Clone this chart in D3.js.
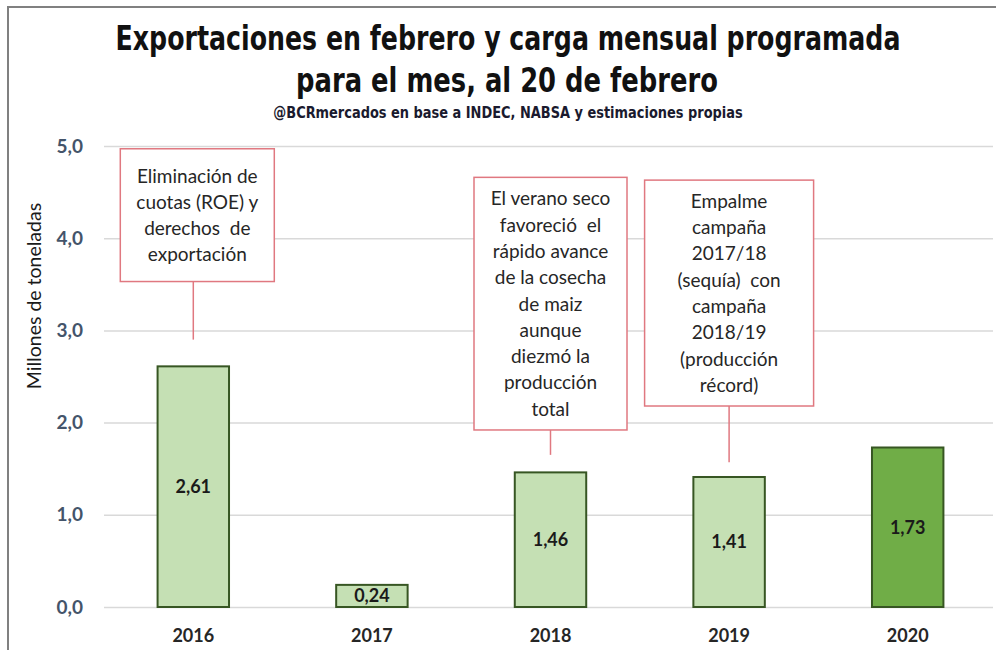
<!DOCTYPE html>
<html>
<head>
<meta charset="utf-8">
<script src="https://cdn.jsdelivr.net/npm/d3@7"></script>
<style>
  body { margin: 0; background: #fff; }
  svg { display: block; }
</style>
</head>
<body>
<svg id="chart"></svg>
<script>
const years = ["2016", "2017", "2018", "2019", "2020"];
const values = [2.61, 0.24, 1.46, 1.41, 1.73];
const yTicks = [0, 1, 2, 3, 4, 5];

const titleLines = [
  "Exportaciones en febrero y carga mensual programada",
  "para el mes, al 20 de febrero"
];
const subtitle = "@BCRmercados en base a INDEC, NABSA y estimaciones propias";
const yTitle = "Millones de toneladas";

const noteYears = ["2016", "2018", "2019"];
const noteTexts = [
  ["Eliminación de", "cuotas (ROE) y", "derechos  de", "exportación"],
  ["El verano seco", "favoreció  el", "rápido avance", "de la cosecha", "de maiz", "aunque", "diezmó la", "producción", "total"],
  ["Empalme", "campaña", "2017/18", "(sequía)  con", "campaña", "2018/19", "(producción", "récord)"]
];

const width = 996;
const height = 650;

// where the note boxes sit, in axis units
const noteLayout = [
  { top: 4.97, bottom: 3.53, tip: 2.90, w: 154, dx: 4 },
  { top: 4.66, bottom: 1.92, tip: 1.65, w: 153, dx: 0 },
  { top: 4.63, bottom: 2.18, tip: 1.57, w: 169, dx: 0 }
];

const svg = d3.select("#chart").attr("width", width).attr("height", height);

svg.append("rect").attr("width", width).attr("height", height).attr("fill", "#fff");

// frame, only top and left edges are visible in the picture
svg.append("rect")
  .attr("x", 8).attr("y", 7)
  .attr("width", 1000).attr("height", 700)
  .attr("fill", "none")
  .attr("stroke", "#808080")
  .attr("stroke-width", 2);

const x = d3.scaleBand()
  .domain(years)
  .range([104, 997])
  .paddingInner(0.6)
  .paddingOuter(0.3);

const y = d3.scaleLinear().domain([0, 5]).range([607, 146]);

const locale = d3.formatLocale({ decimal: ",", thousands: ".", grouping: [3], currency: ["$", ""] });
const f1 = locale.format(".1f");
const f2 = locale.format(".2f");

// titles: condensed look, squeezed horizontally to the widths seen in the picture
const titleFont = "'DejaVu Sans Condensed', 'Liberation Sans Narrow', sans-serif";
function squeezedText(str, cx, baseline, size, targetW, color) {
  const t = svg.append("text")
    .attr("text-anchor", "middle")
    .attr("font-family", titleFont)
    .attr("font-weight", "bold")
    .attr("font-size", size)
    .attr("fill", color)
    .text(str);
  const w = t.node().getComputedTextLength();
  const s = Math.min(1, targetW / w);
  t.attr("transform", `translate(${cx},${baseline}) scale(${s},1)`);
}

squeezedText(titleLines[0], 508, 50, 33, 785, "#111");
squeezedText(titleLines[1], 507, 92, 33, 422, "#111");
squeezedText(subtitle, 508, 118, 15, 470, "#1a1a2e");

// gridlines + y axis
const yAxis = svg.append("g")
  .attr("transform", "translate(104,0)")
  .call(d3.axisLeft(y).tickValues(yTicks).tickSize(-889).tickFormat(f1).tickPadding(21));

yAxis.select(".domain").remove();
yAxis.selectAll(".tick line").attr("stroke", "#d9d9d9").attr("stroke-width", 1.5);
yAxis.selectAll(".tick text")
  .attr("font-family", "Lato, sans-serif")
  .attr("font-weight", "bold")
  .attr("font-size", 19)
  .attr("fill", "#44546a");

svg.append("text")
  .attr("transform", "translate(41,296) rotate(-90)")
  .attr("text-anchor", "middle")
  .attr("font-family", "Lato, sans-serif")
  .attr("font-size", 19.5)
  .attr("fill", "#1a1a1a")
  .text(yTitle);

// x axis labels
const xAxis = svg.append("g")
  .attr("transform", "translate(0,607)")
  .call(d3.axisBottom(x).tickSize(0).tickPadding(22));
xAxis.select(".domain").remove();
xAxis.selectAll(".tick text")
  .attr("font-family", "Lato, sans-serif")
  .attr("font-weight", "bold")
  .attr("font-size", 18)
  .attr("fill", "#262626");

// bars
const bars = years.map((yr, i) => ({ year: yr, value: values[i] }));

svg.append("g")
  .selectAll("rect")
  .data(bars)
  .join("rect")
  .attr("x", d => x(d.year))
  .attr("y", d => y(d.value))
  .attr("width", x.bandwidth())
  .attr("height", d => y(0) - y(d.value))
  .attr("fill", d => d.year === "2020" ? "#70ad47" : "#c5e0b4")
  .attr("stroke", "#375623")
  .attr("stroke-width", 2);

svg.append("g")
  .selectAll("text")
  .data(bars)
  .join("text")
  .attr("x", d => x(d.year) + x.bandwidth() / 2)
  .attr("y", d => (y(d.value) + y(0)) / 2)
  .attr("dy", "0.36em")
  .attr("text-anchor", "middle")
  .attr("font-family", "Lato, sans-serif")
  .attr("font-weight", "bold")
  .attr("font-size", 18)
  .attr("fill", "#1a1a1a")
  .text(d => f2(d.value));

// notes
const notes = noteYears.map((yr, i) => ({ year: yr, lines: noteTexts[i], ...noteLayout[i] }));
const lineGap = 26.3;

const ng = svg.append("g")
  .selectAll("g")
  .data(notes)
  .join("g");

ng.append("line")
  .attr("x1", d => x(d.year) + x.bandwidth() / 2)
  .attr("x2", d => x(d.year) + x.bandwidth() / 2)
  .attr("y1", d => y(d.bottom))
  .attr("y2", d => y(d.tip))
  .attr("stroke", "#e07880")
  .attr("stroke-width", 1.5);

ng.append("rect")
  .attr("x", d => x(d.year) + x.bandwidth() / 2 + d.dx - d.w / 2)
  .attr("y", d => y(d.top))
  .attr("width", d => d.w)
  .attr("height", d => y(d.bottom) - y(d.top))
  .attr("fill", "#fff")
  .attr("stroke", "#e07880")
  .attr("stroke-width", 1.5);

ng.each(function (d) {
  const cx = x(d.year) + x.bandwidth() / 2 + d.dx;
  const cy = (y(d.top) + y(d.bottom)) / 2;
  const start = cy - (d.lines.length - 1) * lineGap / 2;
  d3.select(this).append("text")
    .attr("text-anchor", "middle")
    .attr("font-family", "Lato, sans-serif")
    .attr("font-size", 19)
    .attr("fill", "#262626")
    .attr("xml:space", "preserve")
    .style("white-space", "pre")
    .selectAll("tspan")
    .data(d.lines)
    .join("tspan")
    .attr("x", cx)
    .attr("y", (l, j) => start + j * lineGap)
    .attr("dy", "0.36em")
    .text(l => l);
});
</script>
</body>
</html>
